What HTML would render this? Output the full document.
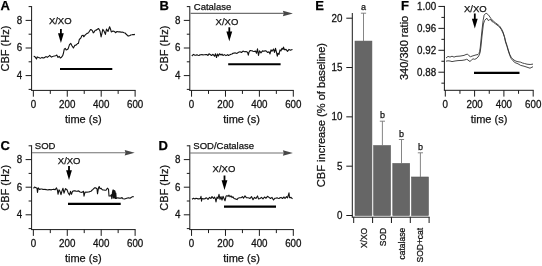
<!DOCTYPE html>
<html><head><meta charset="utf-8"><style>
html,body{margin:0;padding:0;background:#fff;width:542px;height:266px;overflow:hidden;}
svg{display:block;font-family:"Liberation Sans",sans-serif;filter:grayscale(1) blur(0.3px);}
</style></head><body>
<svg width="542" height="266" viewBox="0 0 542 266" font-family="Liberation Sans, sans-serif">
<rect x="0" y="0" width="542" height="266" fill="#fff"/>
<line x1="31.60" y1="6.10" x2="31.60" y2="90.40" stroke="#1a1a1a" stroke-width="1"/>
<line x1="28.60" y1="89.40" x2="31.60" y2="89.40" stroke="#1a1a1a" stroke-width="1"/>
<line x1="25.60" y1="75.60" x2="31.60" y2="75.60" stroke="#1a1a1a" stroke-width="1"/>
<line x1="28.60" y1="61.80" x2="31.60" y2="61.80" stroke="#1a1a1a" stroke-width="1"/>
<line x1="25.60" y1="48.00" x2="31.60" y2="48.00" stroke="#1a1a1a" stroke-width="1"/>
<line x1="28.60" y1="34.20" x2="31.60" y2="34.20" stroke="#1a1a1a" stroke-width="1"/>
<line x1="25.60" y1="20.40" x2="31.60" y2="20.40" stroke="#1a1a1a" stroke-width="1"/>
<line x1="28.60" y1="6.60" x2="31.60" y2="6.60" stroke="#1a1a1a" stroke-width="1"/>
<text transform="translate(22.30,78.95) scale(1,1.08)" x="0" y="0" font-size="9.8" text-anchor="end" fill="#111" stroke="#111" stroke-width="0.25">4</text>
<text transform="translate(22.30,51.35) scale(1,1.08)" x="0" y="0" font-size="9.8" text-anchor="end" fill="#111" stroke="#111" stroke-width="0.25">6</text>
<text transform="translate(22.30,23.75) scale(1,1.08)" x="0" y="0" font-size="9.8" text-anchor="end" fill="#111" stroke="#111" stroke-width="0.25">8</text>
<line x1="31.10" y1="90.40" x2="135.61" y2="90.40" stroke="#1a1a1a" stroke-width="1"/>
<line x1="33.35" y1="90.40" x2="33.35" y2="96.70" stroke="#1a1a1a" stroke-width="1"/>
<line x1="50.31" y1="90.40" x2="50.31" y2="93.90" stroke="#1a1a1a" stroke-width="1"/>
<line x1="67.27" y1="90.40" x2="67.27" y2="96.70" stroke="#1a1a1a" stroke-width="1"/>
<line x1="84.23" y1="90.40" x2="84.23" y2="93.90" stroke="#1a1a1a" stroke-width="1"/>
<line x1="101.19" y1="90.40" x2="101.19" y2="96.70" stroke="#1a1a1a" stroke-width="1"/>
<line x1="118.15" y1="90.40" x2="118.15" y2="93.90" stroke="#1a1a1a" stroke-width="1"/>
<line x1="135.11" y1="90.40" x2="135.11" y2="96.70" stroke="#1a1a1a" stroke-width="1"/>
<text transform="translate(33.35,108.20) scale(1,1.08)" x="0" y="0" font-size="9.8" text-anchor="middle" fill="#111" stroke="#111" stroke-width="0.25">0</text>
<text transform="translate(67.27,108.20) scale(1,1.08)" x="0" y="0" font-size="9.8" text-anchor="middle" fill="#111" stroke="#111" stroke-width="0.25">200</text>
<text transform="translate(101.19,108.20) scale(1,1.08)" x="0" y="0" font-size="9.8" text-anchor="middle" fill="#111" stroke="#111" stroke-width="0.25">400</text>
<text transform="translate(135.11,108.20) scale(1,1.08)" x="0" y="0" font-size="9.8" text-anchor="middle" fill="#111" stroke="#111" stroke-width="0.25">600</text>
<text x="83.30" y="123.20" font-size="11.0" text-anchor="middle" font-weight="normal" fill="#111" stroke="#111" stroke-width="0.25" >time (s)</text>
<text transform="translate(9.30,48.60) rotate(-90) scale(1,1.0)" x="0" y="0" font-size="11.0" text-anchor="middle" fill="#111" stroke="#111" stroke-width="0.25">CBF (Hz)</text>
<line x1="189.80" y1="6.10" x2="189.80" y2="90.40" stroke="#1a1a1a" stroke-width="1"/>
<line x1="186.80" y1="89.40" x2="189.80" y2="89.40" stroke="#1a1a1a" stroke-width="1"/>
<line x1="183.80" y1="75.60" x2="189.80" y2="75.60" stroke="#1a1a1a" stroke-width="1"/>
<line x1="186.80" y1="61.80" x2="189.80" y2="61.80" stroke="#1a1a1a" stroke-width="1"/>
<line x1="183.80" y1="48.00" x2="189.80" y2="48.00" stroke="#1a1a1a" stroke-width="1"/>
<line x1="186.80" y1="34.20" x2="189.80" y2="34.20" stroke="#1a1a1a" stroke-width="1"/>
<line x1="183.80" y1="20.40" x2="189.80" y2="20.40" stroke="#1a1a1a" stroke-width="1"/>
<line x1="186.80" y1="6.60" x2="189.80" y2="6.60" stroke="#1a1a1a" stroke-width="1"/>
<text transform="translate(180.50,78.95) scale(1,1.08)" x="0" y="0" font-size="9.8" text-anchor="end" fill="#111" stroke="#111" stroke-width="0.25">4</text>
<text transform="translate(180.50,51.35) scale(1,1.08)" x="0" y="0" font-size="9.8" text-anchor="end" fill="#111" stroke="#111" stroke-width="0.25">6</text>
<text transform="translate(180.50,23.75) scale(1,1.08)" x="0" y="0" font-size="9.8" text-anchor="end" fill="#111" stroke="#111" stroke-width="0.25">8</text>
<line x1="189.30" y1="90.40" x2="293.81" y2="90.40" stroke="#1a1a1a" stroke-width="1"/>
<line x1="191.55" y1="90.40" x2="191.55" y2="96.70" stroke="#1a1a1a" stroke-width="1"/>
<line x1="208.51" y1="90.40" x2="208.51" y2="93.90" stroke="#1a1a1a" stroke-width="1"/>
<line x1="225.47" y1="90.40" x2="225.47" y2="96.70" stroke="#1a1a1a" stroke-width="1"/>
<line x1="242.43" y1="90.40" x2="242.43" y2="93.90" stroke="#1a1a1a" stroke-width="1"/>
<line x1="259.39" y1="90.40" x2="259.39" y2="96.70" stroke="#1a1a1a" stroke-width="1"/>
<line x1="276.35" y1="90.40" x2="276.35" y2="93.90" stroke="#1a1a1a" stroke-width="1"/>
<line x1="293.31" y1="90.40" x2="293.31" y2="96.70" stroke="#1a1a1a" stroke-width="1"/>
<text transform="translate(191.55,108.20) scale(1,1.08)" x="0" y="0" font-size="9.8" text-anchor="middle" fill="#111" stroke="#111" stroke-width="0.25">0</text>
<text transform="translate(225.47,108.20) scale(1,1.08)" x="0" y="0" font-size="9.8" text-anchor="middle" fill="#111" stroke="#111" stroke-width="0.25">200</text>
<text transform="translate(259.39,108.20) scale(1,1.08)" x="0" y="0" font-size="9.8" text-anchor="middle" fill="#111" stroke="#111" stroke-width="0.25">400</text>
<text transform="translate(293.31,108.20) scale(1,1.08)" x="0" y="0" font-size="9.8" text-anchor="middle" fill="#111" stroke="#111" stroke-width="0.25">600</text>
<text x="241.50" y="123.20" font-size="11.0" text-anchor="middle" font-weight="normal" fill="#111" stroke="#111" stroke-width="0.25" >time (s)</text>
<text transform="translate(167.50,48.60) rotate(-90) scale(1,1.0)" x="0" y="0" font-size="11.0" text-anchor="middle" fill="#111" stroke="#111" stroke-width="0.25">CBF (Hz)</text>
<line x1="31.60" y1="145.30" x2="31.60" y2="229.60" stroke="#1a1a1a" stroke-width="1"/>
<line x1="28.60" y1="228.60" x2="31.60" y2="228.60" stroke="#1a1a1a" stroke-width="1"/>
<line x1="25.60" y1="214.80" x2="31.60" y2="214.80" stroke="#1a1a1a" stroke-width="1"/>
<line x1="28.60" y1="201.00" x2="31.60" y2="201.00" stroke="#1a1a1a" stroke-width="1"/>
<line x1="25.60" y1="187.20" x2="31.60" y2="187.20" stroke="#1a1a1a" stroke-width="1"/>
<line x1="28.60" y1="173.40" x2="31.60" y2="173.40" stroke="#1a1a1a" stroke-width="1"/>
<line x1="25.60" y1="159.60" x2="31.60" y2="159.60" stroke="#1a1a1a" stroke-width="1"/>
<line x1="28.60" y1="145.80" x2="31.60" y2="145.80" stroke="#1a1a1a" stroke-width="1"/>
<text transform="translate(22.30,218.15) scale(1,1.08)" x="0" y="0" font-size="9.8" text-anchor="end" fill="#111" stroke="#111" stroke-width="0.25">4</text>
<text transform="translate(22.30,190.55) scale(1,1.08)" x="0" y="0" font-size="9.8" text-anchor="end" fill="#111" stroke="#111" stroke-width="0.25">6</text>
<text transform="translate(22.30,162.95) scale(1,1.08)" x="0" y="0" font-size="9.8" text-anchor="end" fill="#111" stroke="#111" stroke-width="0.25">8</text>
<line x1="31.10" y1="229.60" x2="135.61" y2="229.60" stroke="#1a1a1a" stroke-width="1"/>
<line x1="33.35" y1="229.60" x2="33.35" y2="235.90" stroke="#1a1a1a" stroke-width="1"/>
<line x1="50.31" y1="229.60" x2="50.31" y2="233.10" stroke="#1a1a1a" stroke-width="1"/>
<line x1="67.27" y1="229.60" x2="67.27" y2="235.90" stroke="#1a1a1a" stroke-width="1"/>
<line x1="84.23" y1="229.60" x2="84.23" y2="233.10" stroke="#1a1a1a" stroke-width="1"/>
<line x1="101.19" y1="229.60" x2="101.19" y2="235.90" stroke="#1a1a1a" stroke-width="1"/>
<line x1="118.15" y1="229.60" x2="118.15" y2="233.10" stroke="#1a1a1a" stroke-width="1"/>
<line x1="135.11" y1="229.60" x2="135.11" y2="235.90" stroke="#1a1a1a" stroke-width="1"/>
<text transform="translate(33.35,247.40) scale(1,1.08)" x="0" y="0" font-size="9.8" text-anchor="middle" fill="#111" stroke="#111" stroke-width="0.25">0</text>
<text transform="translate(67.27,247.40) scale(1,1.08)" x="0" y="0" font-size="9.8" text-anchor="middle" fill="#111" stroke="#111" stroke-width="0.25">200</text>
<text transform="translate(101.19,247.40) scale(1,1.08)" x="0" y="0" font-size="9.8" text-anchor="middle" fill="#111" stroke="#111" stroke-width="0.25">400</text>
<text transform="translate(135.11,247.40) scale(1,1.08)" x="0" y="0" font-size="9.8" text-anchor="middle" fill="#111" stroke="#111" stroke-width="0.25">600</text>
<text x="83.30" y="262.40" font-size="11.0" text-anchor="middle" font-weight="normal" fill="#111" stroke="#111" stroke-width="0.25" >time (s)</text>
<text transform="translate(9.30,187.80) rotate(-90) scale(1,1.0)" x="0" y="0" font-size="11.0" text-anchor="middle" fill="#111" stroke="#111" stroke-width="0.25">CBF (Hz)</text>
<line x1="189.80" y1="145.30" x2="189.80" y2="229.60" stroke="#1a1a1a" stroke-width="1"/>
<line x1="186.80" y1="228.60" x2="189.80" y2="228.60" stroke="#1a1a1a" stroke-width="1"/>
<line x1="183.80" y1="214.80" x2="189.80" y2="214.80" stroke="#1a1a1a" stroke-width="1"/>
<line x1="186.80" y1="201.00" x2="189.80" y2="201.00" stroke="#1a1a1a" stroke-width="1"/>
<line x1="183.80" y1="187.20" x2="189.80" y2="187.20" stroke="#1a1a1a" stroke-width="1"/>
<line x1="186.80" y1="173.40" x2="189.80" y2="173.40" stroke="#1a1a1a" stroke-width="1"/>
<line x1="183.80" y1="159.60" x2="189.80" y2="159.60" stroke="#1a1a1a" stroke-width="1"/>
<line x1="186.80" y1="145.80" x2="189.80" y2="145.80" stroke="#1a1a1a" stroke-width="1"/>
<text transform="translate(180.50,218.15) scale(1,1.08)" x="0" y="0" font-size="9.8" text-anchor="end" fill="#111" stroke="#111" stroke-width="0.25">4</text>
<text transform="translate(180.50,190.55) scale(1,1.08)" x="0" y="0" font-size="9.8" text-anchor="end" fill="#111" stroke="#111" stroke-width="0.25">6</text>
<text transform="translate(180.50,162.95) scale(1,1.08)" x="0" y="0" font-size="9.8" text-anchor="end" fill="#111" stroke="#111" stroke-width="0.25">8</text>
<line x1="189.30" y1="229.60" x2="293.81" y2="229.60" stroke="#1a1a1a" stroke-width="1"/>
<line x1="191.55" y1="229.60" x2="191.55" y2="235.90" stroke="#1a1a1a" stroke-width="1"/>
<line x1="208.51" y1="229.60" x2="208.51" y2="233.10" stroke="#1a1a1a" stroke-width="1"/>
<line x1="225.47" y1="229.60" x2="225.47" y2="235.90" stroke="#1a1a1a" stroke-width="1"/>
<line x1="242.43" y1="229.60" x2="242.43" y2="233.10" stroke="#1a1a1a" stroke-width="1"/>
<line x1="259.39" y1="229.60" x2="259.39" y2="235.90" stroke="#1a1a1a" stroke-width="1"/>
<line x1="276.35" y1="229.60" x2="276.35" y2="233.10" stroke="#1a1a1a" stroke-width="1"/>
<line x1="293.31" y1="229.60" x2="293.31" y2="235.90" stroke="#1a1a1a" stroke-width="1"/>
<text transform="translate(191.55,247.40) scale(1,1.08)" x="0" y="0" font-size="9.8" text-anchor="middle" fill="#111" stroke="#111" stroke-width="0.25">0</text>
<text transform="translate(225.47,247.40) scale(1,1.08)" x="0" y="0" font-size="9.8" text-anchor="middle" fill="#111" stroke="#111" stroke-width="0.25">200</text>
<text transform="translate(259.39,247.40) scale(1,1.08)" x="0" y="0" font-size="9.8" text-anchor="middle" fill="#111" stroke="#111" stroke-width="0.25">400</text>
<text transform="translate(293.31,247.40) scale(1,1.08)" x="0" y="0" font-size="9.8" text-anchor="middle" fill="#111" stroke="#111" stroke-width="0.25">600</text>
<text x="241.50" y="262.40" font-size="11.0" text-anchor="middle" font-weight="normal" fill="#111" stroke="#111" stroke-width="0.25" >time (s)</text>
<text transform="translate(167.50,187.80) rotate(-90) scale(1,1.0)" x="0" y="0" font-size="11.0" text-anchor="middle" fill="#111" stroke="#111" stroke-width="0.25">CBF (Hz)</text>
<text x="0.60" y="10.30" font-size="13" text-anchor="start" font-weight="bold" fill="#000" stroke="#000" stroke-width="0.25" >A</text>
<text x="159.40" y="10.40" font-size="13" text-anchor="start" font-weight="bold" fill="#000" stroke="#000" stroke-width="0.25" >B</text>
<text x="0.60" y="149.90" font-size="13" text-anchor="start" font-weight="bold" fill="#000" stroke="#000" stroke-width="0.25" >C</text>
<text x="158.60" y="150.10" font-size="13" text-anchor="start" font-weight="bold" fill="#000" stroke="#000" stroke-width="0.25" >D</text>
<text x="315.20" y="9.70" font-size="13" text-anchor="start" font-weight="bold" fill="#000" stroke="#000" stroke-width="0.25" >E</text>
<text x="401.00" y="9.70" font-size="13" text-anchor="start" font-weight="bold" fill="#000" stroke="#000" stroke-width="0.25" >F</text>
<polyline points="33.70,56.30 34.80,56.60 35.70,57.80 36.50,59.00 37.20,56.90 38.50,57.50 39.40,57.86 40.30,58.30 41.15,57.90 42.00,57.40 42.90,58.03 43.80,57.90 45.00,57.20 46.20,56.60 47.30,57.40 48.10,56.70 48.90,56.07 49.70,55.40 50.60,56.38 51.50,57.20 52.35,56.47 53.20,56.30 54.40,56.01 55.60,55.70 56.80,55.10 58.00,57.40 59.20,56.30 60.30,58.00 61.50,57.20 62.70,55.70 63.50,53.00 64.20,49.30 65.30,48.40 66.20,50.00 67.20,49.47 68.20,48.70 69.50,44.70 70.80,43.40 72.10,46.00 73.40,48.00 74.70,45.40 75.70,45.21 76.70,44.50 77.55,43.58 78.40,43.40 79.30,39.50 80.70,38.20 82.00,35.50 83.30,35.30 83.70,36.80 85.30,34.90 86.17,34.16 87.03,33.40 87.90,33.20 88.77,32.28 89.63,30.97 90.50,29.60 91.50,29.84 92.50,30.90 93.20,32.90 94.20,31.98 95.20,30.20 96.10,30.27 97.00,29.50 98.60,28.50 100.00,31.00 101.10,37.00 101.95,33.34 102.80,29.40 104.00,31.00 105.40,34.40 106.50,29.00 108.00,31.50 109.60,26.80 110.50,29.00 111.30,31.90 112.15,31.55 113.00,31.00 113.83,31.26 114.67,31.70 115.50,32.70 117.00,31.50 117.95,31.73 118.90,31.90 119.95,31.70 121.00,32.30 122.00,32.15 123.00,32.33 124.00,32.70 125.00,32.93 126.00,34.00 127.10,35.02 128.20,36.10 129.03,35.68 129.87,35.67 130.70,35.00 131.85,34.82 133.00,34.60 133.95,34.63 134.90,34.40" fill="none" stroke="#111" stroke-width="1.1" stroke-linejoin="round"/>
<text x="48.90" y="24.20" font-size="9.5" text-anchor="start" font-weight="normal" fill="#111" stroke="#111" stroke-width="0.25" >X/XO</text>
<line x1="60.90" y1="29.00" x2="60.90" y2="34.20" stroke="#000" stroke-width="1.8"/>
<path d="M58.00,33.20 L63.80,33.20 L60.90,43.00 Z" fill="#000"/>
<line x1="60.00" y1="69.00" x2="112.30" y2="69.00" stroke="#000" stroke-width="2.15"/>
<polyline points="191.80,56.00 192.65,55.18 193.50,54.40 195.00,55.20 196.00,55.14 197.00,54.80 198.00,55.30 199.00,55.50 200.00,54.83 201.00,54.80 202.00,54.46 203.00,55.00 204.00,54.79 205.00,54.80 206.00,54.50 207.00,54.60 208.00,55.50 209.00,53.80 210.50,54.80 211.50,55.50 213.00,54.30 214.50,56.20 215.50,53.80 216.50,57.50 217.50,54.00 218.50,56.00 219.50,53.80 221.00,55.00 222.00,54.20 223.00,55.50 224.50,54.60 226.00,55.60 227.50,54.60 228.50,55.50 229.50,54.90 231.00,54.20 232.00,53.98 233.00,53.20 234.00,53.17 235.00,52.80 236.00,53.19 237.00,53.40 238.50,52.20 240.00,51.80 241.50,52.50 243.00,51.10 244.50,51.80 246.00,51.50 247.50,52.20 248.30,55.20 249.00,52.20 250.00,50.50 251.00,50.65 252.00,50.70 253.00,51.25 254.00,51.50 255.50,51.10 256.50,53.20 257.50,48.80 258.50,55.50 259.50,50.80 261.00,52.80 262.50,50.90 264.00,51.30 265.00,50.78 266.00,50.90 267.50,52.40 269.00,51.70 270.00,53.90 271.00,49.80 272.00,51.30 273.50,49.00 274.50,52.40 275.50,48.30 276.50,52.40 277.30,56.20 278.00,53.20 279.00,54.30 280.00,49.80 281.00,50.90 282.00,48.30 283.00,49.40 283.50,47.10 284.50,49.80 286.00,49.40 287.50,51.30 289.00,49.40 290.50,50.20 291.50,49.75 292.50,49.40" fill="none" stroke="#111" stroke-width="1.1" stroke-linejoin="round"/>
<line x1="190.50" y1="13.40" x2="283.90" y2="13.40" stroke="#707070" stroke-width="1.1"/>
<path d="M282.90,10.65 L292.90,13.40 L282.90,16.15 L283.70,13.40 Z" fill="#474747"/>
<text x="193.80" y="10.20" font-size="9.5" text-anchor="start" font-weight="normal" fill="#111" stroke="#111" stroke-width="0.25" >Catalase</text>
<text x="215.60" y="25.00" font-size="9.5" text-anchor="start" font-weight="normal" fill="#111" stroke="#111" stroke-width="0.25" >X/XO</text>
<line x1="229.30" y1="27.30" x2="229.30" y2="32.50" stroke="#000" stroke-width="1.8"/>
<path d="M226.40,31.50 L232.20,31.50 L229.30,41.30 Z" fill="#000"/>
<line x1="228.20" y1="64.20" x2="280.60" y2="64.20" stroke="#000" stroke-width="2.15"/>
<polyline points="33.50,188.30 34.50,187.10 35.50,187.50 37.00,188.30 37.50,192.40 38.20,187.90 39.50,189.40 41.00,189.00 42.00,188.98 43.00,189.40 44.00,189.47 45.00,189.20 46.00,189.67 47.00,189.80 48.00,190.01 49.00,189.60 50.00,189.52 51.00,190.00 52.00,189.46 53.00,189.40 54.00,189.28 55.00,189.80 56.50,187.90 57.50,190.50 58.00,194.30 59.00,189.80 60.00,191.30 61.00,194.70 62.00,190.90 63.00,188.30 64.00,193.20 65.50,188.60 67.00,189.80 68.00,192.40 69.50,195.00 70.50,191.30 71.50,194.30 72.50,191.30 74.00,190.90 75.00,190.85 76.00,191.30 77.00,191.31 78.00,190.90 79.00,191.12 80.00,192.00 81.00,192.23 82.00,192.40 83.50,191.30 84.00,196.20 85.00,192.40 86.00,192.09 87.00,192.30 88.00,191.97 89.00,192.00 90.00,191.59 91.00,191.30 92.00,190.20 93.00,189.40 94.50,187.90 95.50,187.80 97.00,188.70 97.50,193.80 98.50,187.80 99.20,186.50 100.00,188.70 101.00,188.20 102.00,189.50 103.00,190.05 104.00,190.00 105.00,190.20 106.00,190.20 107.30,188.20 108.50,189.10 109.00,196.00 110.50,196.00 111.30,194.70 111.80,198.60 112.50,192.10 113.00,190.00 113.30,198.00 113.60,190.00 114.00,198.00 114.30,190.50 114.70,198.00 115.00,191.00 115.40,198.50 115.80,193.00 116.20,198.50 117.00,198.00 118.00,197.71 119.00,198.30 120.00,198.05 121.00,198.20 122.00,197.50 123.00,198.80 124.50,199.00 126.00,198.50 127.50,198.00 128.60,197.80 130.00,198.20 131.50,197.20 132.65,196.63 133.80,196.70" fill="none" stroke="#111" stroke-width="1.1" stroke-linejoin="round"/>
<line x1="32.00" y1="152.70" x2="125.70" y2="152.70" stroke="#707070" stroke-width="1.1"/>
<path d="M124.70,149.95 L134.70,152.70 L124.70,155.45 L125.50,152.70 Z" fill="#474747"/>
<text x="34.80" y="149.00" font-size="9.5" text-anchor="start" font-weight="normal" fill="#111" stroke="#111" stroke-width="0.25" >SOD</text>
<text x="57.80" y="164.40" font-size="9.5" text-anchor="start" font-weight="normal" fill="#111" stroke="#111" stroke-width="0.25" >X/XO</text>
<line x1="69.00" y1="166.00" x2="69.00" y2="171.30" stroke="#000" stroke-width="1.8"/>
<path d="M66.10,170.30 L71.90,170.30 L69.00,180.10 Z" fill="#000"/>
<line x1="68.00" y1="203.80" x2="120.70" y2="203.80" stroke="#000" stroke-width="2.15"/>
<polyline points="192.00,199.30 193.50,198.20 195.00,198.90 196.00,198.35 197.00,198.50 198.00,198.88 199.00,198.90 200.50,198.20 201.00,196.30 201.50,201.20 202.00,198.50 203.00,198.84 204.00,198.90 205.00,198.75 206.00,197.80 207.00,198.34 208.00,199.30 209.50,197.40 211.00,198.50 212.00,196.60 213.50,198.50 214.50,197.00 215.50,199.30 216.00,201.90 217.00,197.00 218.00,198.50 219.00,194.40 220.00,199.30 221.00,196.60 222.00,200.00 223.00,196.30 224.00,198.50 225.00,200.80 226.00,196.30 227.00,195.60 228.00,196.40 229.00,195.20 230.00,196.80 231.00,195.80 232.00,197.60 233.00,196.80 234.00,198.50 235.50,198.90 237.00,199.60 238.00,198.20 239.50,197.80 241.00,197.80 242.50,196.60 243.50,198.20 245.00,195.90 246.50,197.80 248.00,197.80 249.00,197.93 250.00,198.50 251.50,196.60 253.00,199.70 254.50,197.40 256.00,198.50 257.50,195.90 258.50,198.90 260.00,198.50 261.50,197.40 263.00,198.90 264.50,197.00 266.00,198.20 267.50,196.30 269.00,197.40 270.50,198.50 272.00,197.40 273.50,200.00 275.00,198.20 276.00,198.21 277.00,197.80 278.00,198.29 279.00,198.50 280.00,197.77 281.00,197.40 282.50,198.50 284.00,197.00 285.00,198.50 286.50,196.60 287.50,197.80 289.00,192.90 289.50,197.80 291.00,197.40 292.50,198.90" fill="none" stroke="#111" stroke-width="1.1" stroke-linejoin="round"/>
<line x1="189.90" y1="153.00" x2="283.90" y2="153.00" stroke="#707070" stroke-width="1.1"/>
<path d="M282.90,150.25 L292.90,153.00 L282.90,155.75 L283.70,153.00 Z" fill="#474747"/>
<text x="193.30" y="149.10" font-size="9.5" text-anchor="start" font-weight="normal" fill="#111" stroke="#111" stroke-width="0.25" >SOD/Catalase</text>
<text x="212.60" y="172.40" font-size="9.5" text-anchor="start" font-weight="normal" fill="#111" stroke="#111" stroke-width="0.25" >X/XO</text>
<line x1="224.50" y1="175.50" x2="224.50" y2="181.20" stroke="#000" stroke-width="1.8"/>
<path d="M221.60,180.20 L227.40,180.20 L224.50,190.00 Z" fill="#000"/>
<line x1="224.00" y1="206.60" x2="276.00" y2="206.60" stroke="#000" stroke-width="2.15"/>
<line x1="352.30" y1="13.00" x2="352.30" y2="217.20" stroke="#1a1a1a" stroke-width="1"/>
<line x1="346.30" y1="215.50" x2="352.30" y2="215.50" stroke="#1a1a1a" stroke-width="1"/>
<text transform="translate(342.50,218.85) scale(1,1.08)" x="0" y="0" font-size="9.8" text-anchor="end" fill="#111" stroke="#111" stroke-width="0.25">0</text>
<line x1="346.30" y1="166.18" x2="352.30" y2="166.18" stroke="#1a1a1a" stroke-width="1"/>
<text transform="translate(342.50,169.53) scale(1,1.08)" x="0" y="0" font-size="9.8" text-anchor="end" fill="#111" stroke="#111" stroke-width="0.25">5</text>
<line x1="346.30" y1="116.85" x2="352.30" y2="116.85" stroke="#1a1a1a" stroke-width="1"/>
<text transform="translate(342.50,120.20) scale(1,1.08)" x="0" y="0" font-size="9.8" text-anchor="end" fill="#111" stroke="#111" stroke-width="0.25">10</text>
<line x1="346.30" y1="67.53" x2="352.30" y2="67.53" stroke="#1a1a1a" stroke-width="1"/>
<text transform="translate(342.50,70.88) scale(1,1.08)" x="0" y="0" font-size="9.8" text-anchor="end" fill="#111" stroke="#111" stroke-width="0.25">15</text>
<line x1="346.30" y1="18.20" x2="352.30" y2="18.20" stroke="#1a1a1a" stroke-width="1"/>
<text transform="translate(342.50,21.55) scale(1,1.08)" x="0" y="0" font-size="9.8" text-anchor="end" fill="#111" stroke="#111" stroke-width="0.25">20</text>
<line x1="351.80" y1="217.20" x2="429.60" y2="217.20" stroke="#1a1a1a" stroke-width="1"/>
<line x1="353.70" y1="217.20" x2="353.70" y2="223.00" stroke="#1a1a1a" stroke-width="1"/>
<line x1="372.60" y1="217.20" x2="372.60" y2="223.00" stroke="#1a1a1a" stroke-width="1"/>
<line x1="391.45" y1="217.20" x2="391.45" y2="223.00" stroke="#1a1a1a" stroke-width="1"/>
<line x1="410.30" y1="217.20" x2="410.30" y2="223.00" stroke="#1a1a1a" stroke-width="1"/>
<line x1="429.10" y1="217.20" x2="429.10" y2="223.00" stroke="#1a1a1a" stroke-width="1"/>
<rect x="355.00" y="41.10" width="16.90" height="174.40" fill="#666" stroke="#555" stroke-width="0.6"/>
<rect x="373.70" y="145.60" width="16.80" height="69.90" fill="#666" stroke="#555" stroke-width="0.6"/>
<rect x="392.80" y="163.50" width="16.80" height="52.00" fill="#666" stroke="#555" stroke-width="0.6"/>
<rect x="411.60" y="177.00" width="16.80" height="38.50" fill="#666" stroke="#555" stroke-width="0.6"/>
<line x1="363.50" y1="41.10" x2="363.50" y2="13.20" stroke="#777" stroke-width="0.9"/>
<line x1="360.90" y1="13.20" x2="366.10" y2="13.20" stroke="#777" stroke-width="0.9"/>
<text x="363.50" y="10.20" font-size="9" text-anchor="middle" font-weight="normal" fill="#111" stroke="#111" stroke-width="0.25" >a</text>
<line x1="382.40" y1="145.60" x2="382.40" y2="121.20" stroke="#777" stroke-width="0.9"/>
<line x1="379.80" y1="121.20" x2="385.00" y2="121.20" stroke="#777" stroke-width="0.9"/>
<text x="382.40" y="118.20" font-size="9" text-anchor="middle" font-weight="normal" fill="#111" stroke="#111" stroke-width="0.25" >b</text>
<line x1="401.50" y1="163.50" x2="401.50" y2="139.50" stroke="#777" stroke-width="0.9"/>
<line x1="398.90" y1="139.50" x2="404.10" y2="139.50" stroke="#777" stroke-width="0.9"/>
<text x="401.50" y="136.50" font-size="9" text-anchor="middle" font-weight="normal" fill="#111" stroke="#111" stroke-width="0.25" >b</text>
<line x1="420.40" y1="177.00" x2="420.40" y2="152.80" stroke="#777" stroke-width="0.9"/>
<line x1="417.80" y1="152.80" x2="423.00" y2="152.80" stroke="#777" stroke-width="0.9"/>
<text x="420.40" y="149.80" font-size="9" text-anchor="middle" font-weight="normal" fill="#111" stroke="#111" stroke-width="0.25" >b</text>
<text transform="translate(367.30,227.80) rotate(-90) scale(1,1.0)" x="0" y="0" font-size="8.5" text-anchor="end" fill="#111" stroke="#111" stroke-width="0.25">X/XO</text>
<text transform="translate(385.60,227.80) rotate(-90) scale(1,1.0)" x="0" y="0" font-size="8.5" text-anchor="end" fill="#111" stroke="#111" stroke-width="0.25">SOD</text>
<text transform="translate(405.00,227.80) rotate(-90) scale(1,1.0)" x="0" y="0" font-size="8.5" text-anchor="end" fill="#111" stroke="#111" stroke-width="0.25">catalase</text>
<text transform="translate(423.30,227.80) rotate(-90) scale(1,1.0)" x="0" y="0" font-size="8.5" text-anchor="end" fill="#111" stroke="#111" stroke-width="0.25">SOD+cat</text>
<text transform="translate(324.90,115.10) rotate(-90) scale(1,1.0)" x="0" y="0" font-size="11.1" text-anchor="middle" fill="#111" stroke="#111" stroke-width="0.25">CBF increase (% of baseline)</text>
<line x1="444.40" y1="5.95" x2="444.40" y2="90.30" stroke="#1a1a1a" stroke-width="1"/>
<line x1="438.40" y1="6.45" x2="444.40" y2="6.45" stroke="#1a1a1a" stroke-width="1"/>
<line x1="441.40" y1="17.41" x2="444.40" y2="17.41" stroke="#1a1a1a" stroke-width="1"/>
<line x1="438.40" y1="28.37" x2="444.40" y2="28.37" stroke="#1a1a1a" stroke-width="1"/>
<line x1="441.40" y1="39.33" x2="444.40" y2="39.33" stroke="#1a1a1a" stroke-width="1"/>
<line x1="438.40" y1="50.29" x2="444.40" y2="50.29" stroke="#1a1a1a" stroke-width="1"/>
<line x1="441.40" y1="61.25" x2="444.40" y2="61.25" stroke="#1a1a1a" stroke-width="1"/>
<line x1="438.40" y1="72.21" x2="444.40" y2="72.21" stroke="#1a1a1a" stroke-width="1"/>
<line x1="441.40" y1="83.17" x2="444.40" y2="83.17" stroke="#1a1a1a" stroke-width="1"/>
<text transform="translate(436.10,9.80) scale(1,1.08)" x="0" y="0" font-size="9.8" text-anchor="end" fill="#111" stroke="#111" stroke-width="0.25">1.00</text>
<text transform="translate(436.10,31.72) scale(1,1.08)" x="0" y="0" font-size="9.8" text-anchor="end" fill="#111" stroke="#111" stroke-width="0.25">0.96</text>
<text transform="translate(436.10,53.64) scale(1,1.08)" x="0" y="0" font-size="9.8" text-anchor="end" fill="#111" stroke="#111" stroke-width="0.25">0.92</text>
<text transform="translate(436.10,75.56) scale(1,1.08)" x="0" y="0" font-size="9.8" text-anchor="end" fill="#111" stroke="#111" stroke-width="0.25">0.88</text>
<line x1="443.90" y1="90.30" x2="533.70" y2="90.30" stroke="#1a1a1a" stroke-width="1"/>
<line x1="445.30" y1="90.30" x2="445.30" y2="96.60" stroke="#1a1a1a" stroke-width="1"/>
<line x1="459.95" y1="90.30" x2="459.95" y2="93.80" stroke="#1a1a1a" stroke-width="1"/>
<line x1="474.60" y1="90.30" x2="474.60" y2="96.60" stroke="#1a1a1a" stroke-width="1"/>
<line x1="489.25" y1="90.30" x2="489.25" y2="93.80" stroke="#1a1a1a" stroke-width="1"/>
<line x1="503.90" y1="90.30" x2="503.90" y2="96.60" stroke="#1a1a1a" stroke-width="1"/>
<line x1="518.55" y1="90.30" x2="518.55" y2="93.80" stroke="#1a1a1a" stroke-width="1"/>
<line x1="533.20" y1="90.30" x2="533.20" y2="96.60" stroke="#1a1a1a" stroke-width="1"/>
<text transform="translate(445.30,108.40) scale(1,1.08)" x="0" y="0" font-size="9.8" text-anchor="middle" fill="#111" stroke="#111" stroke-width="0.25">0</text>
<text transform="translate(474.60,108.40) scale(1,1.08)" x="0" y="0" font-size="9.8" text-anchor="middle" fill="#111" stroke="#111" stroke-width="0.25">200</text>
<text transform="translate(503.90,108.40) scale(1,1.08)" x="0" y="0" font-size="9.8" text-anchor="middle" fill="#111" stroke="#111" stroke-width="0.25">400</text>
<text transform="translate(533.20,108.40) scale(1,1.08)" x="0" y="0" font-size="9.8" text-anchor="middle" fill="#111" stroke="#111" stroke-width="0.25">600</text>
<text x="489.00" y="123.30" font-size="11.0" text-anchor="middle" font-weight="normal" fill="#111" stroke="#111" stroke-width="0.25" >time (s)</text>
<text transform="translate(408.40,47.90) rotate(-90) scale(1,1.0)" x="0" y="0" font-size="11.0" text-anchor="middle" fill="#111" stroke="#111" stroke-width="0.25">340/380 ratio</text>
<polyline points="446.00,58.00 448.00,56.40 450.00,57.10 452.00,56.20 454.00,57.10 456.00,56.40 460.00,56.10 464.00,55.40 466.00,54.50 467.50,54.10 469.00,55.80 470.50,56.70 473.00,55.80 476.00,54.90 478.00,54.50 479.00,53.40 479.60,51.50 480.20,48.00 481.00,40.00 482.00,30.00 483.10,20.60 484.10,15.10 486.10,13.10 488.60,15.10 491.00,18.60 493.40,21.20 495.70,23.00 498.10,24.80 499.50,26.00 501.30,28.50 503.00,32.00 504.50,36.50 505.50,41.00 507.00,45.50 508.30,50.00 509.80,54.50 511.20,57.30 513.00,59.30 515.00,60.70 517.00,61.50 520.70,62.20 522.50,63.00 524.50,63.50 527.00,64.20 530.10,64.50 533.00,64.10" fill="none" stroke="#333" stroke-width="0.9" stroke-linejoin="round"/>
<polyline points="446.00,61.20 448.00,60.80 450.00,61.00 452.00,61.60 455.00,61.00 458.00,60.60 462.00,60.40 465.00,59.90 466.50,59.30 468.00,59.90 469.00,61.00 470.00,61.40 471.50,60.10 473.00,58.80 474.50,59.30 476.00,58.80 478.00,57.10 479.30,54.90 480.20,52.00 481.00,46.00 482.00,36.00 483.40,24.00 484.60,20.60 485.80,19.00 487.00,18.30 488.30,20.60 489.40,19.80 491.00,19.60 491.80,21.40 493.40,22.20 495.70,24.00 498.10,25.80 499.50,27.00 501.30,29.50 503.00,33.00 504.50,37.50 505.50,42.00 507.00,46.50 508.30,51.00 509.80,55.50 511.20,58.50 513.00,60.80 515.00,62.60 518.00,63.80 520.70,65.40 524.00,66.20 527.00,67.20 530.00,68.20 533.00,66.70" fill="none" stroke="#333" stroke-width="0.9" stroke-linejoin="round"/>
<text x="464.00" y="12.40" font-size="9.5" text-anchor="start" font-weight="normal" fill="#111" stroke="#111" stroke-width="0.25" >X/XO</text>
<line x1="474.80" y1="13.50" x2="474.80" y2="19.80" stroke="#000" stroke-width="1.8"/>
<path d="M471.90,18.80 L477.70,18.80 L474.80,28.60 Z" fill="#000"/>
<line x1="474.00" y1="72.90" x2="519.50" y2="72.90" stroke="#000" stroke-width="2.15"/>
</svg>
</body></html>
